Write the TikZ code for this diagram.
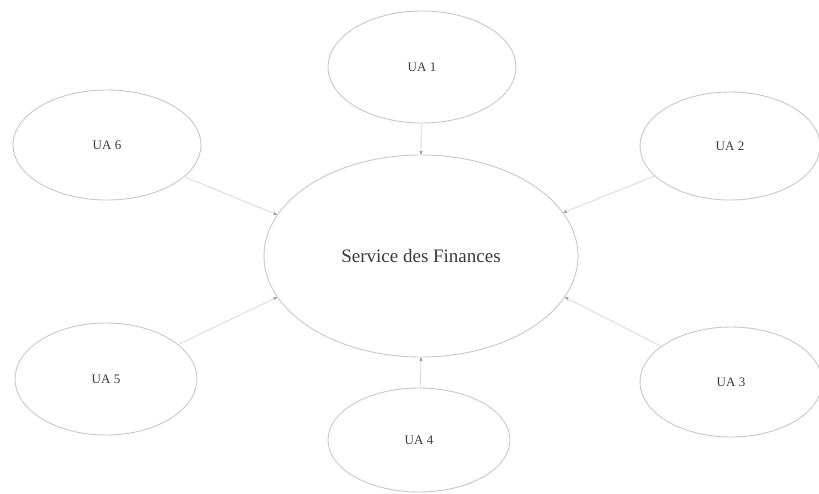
\documentclass[tikz,border=0pt]{standalone}
\usepackage{fontspec}
\setmainfont{Liberation Serif}
\usetikzlibrary{shapes.geometric,arrows.meta}
\definecolor{edgegray}{HTML}{C8C8C8}
\definecolor{linkgray}{HTML}{D8D8D8}
\definecolor{tipgray}{HTML}{8A8A8A}
\definecolor{textgray}{HTML}{3A3A3A}
\tikzset{
  bubble/.style={ellipse, draw=edgegray, line width=0.9pt, inner sep=0pt,
    text=textgray, font=\fontsize{13}{15}\selectfont},
  hub/.style={bubble, font=\fontsize{19}{22}\selectfont},
  link/.style={draw=linkgray, line width=0.8pt,
    -{Stealth[length=4pt,width=3.2pt,color=tipgray]}}
}
\begin{document}
\begin{tikzpicture}[x=1pt,y=-1pt]
\useasboundingbox (0,0) rectangle (819,493);
\node[hub, minimum width=314pt, minimum height=202pt] (c) at (421,256) {Service des Finances};
\node[bubble, minimum width=188pt, minimum height=112pt] (ua1) at (422,67) {UA 1};
\node[bubble, minimum width=180pt, minimum height=108pt] (ua2) at (730,146) {UA 2};
\node[bubble, minimum width=182pt, minimum height=110pt] (ua3) at (731,382) {UA 3};
\node[bubble, minimum width=182pt, minimum height=104pt] (ua4) at (419,440) {UA 4};
\node[bubble, minimum width=182pt, minimum height=112pt] (ua5) at (106,379) {UA 5};
\node[bubble, minimum width=188pt, minimum height=110pt] (ua6) at (107,145) {UA 6};
\draw[link] (ua1) -- (c.north);
\draw[link] (ua2) -- (c.17);
\draw[link] (ua3) -- (c.-16);
\draw[link] (ua4) -- (c.south);
\draw[link] (ua5) -- (c.196);
\draw[link] (ua6) -- (c.164);
\end{tikzpicture}
\end{document}
